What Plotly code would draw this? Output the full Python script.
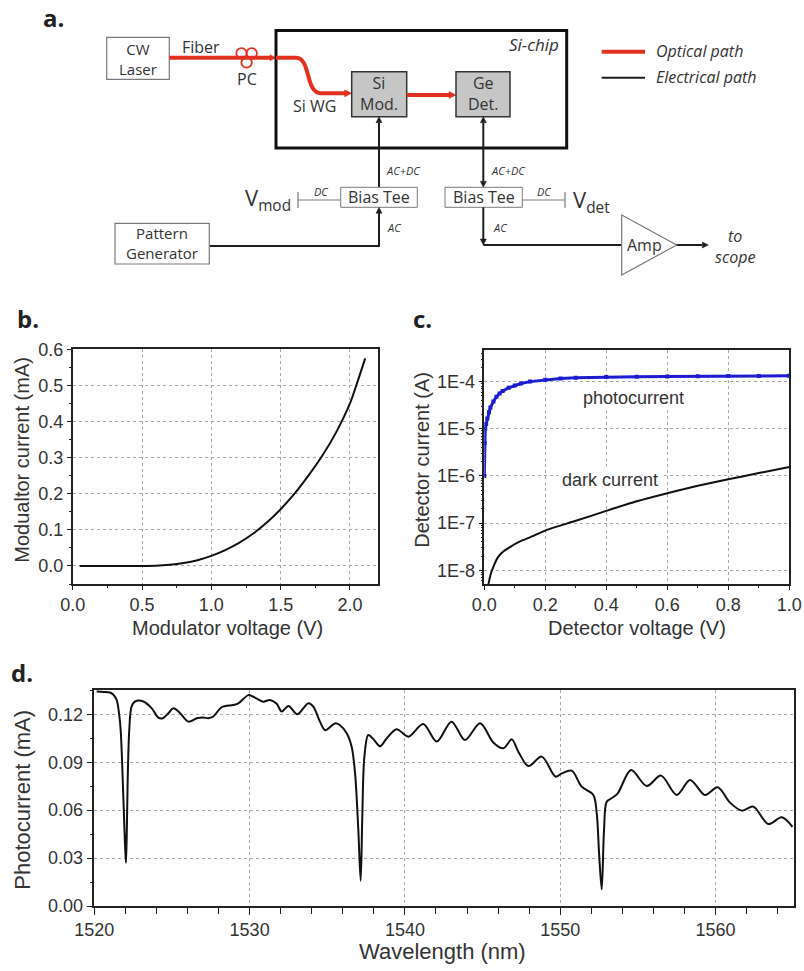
import plotly.graph_objects as go

# ---------------- data ----------------
# panel b: modulator I-V
b_voltage = [0.05, 0.3, 0.6, 0.7, 0.8, 0.9, 1.0, 1.1, 1.2, 1.3, 1.4, 1.5, 1.6, 1.7, 1.8, 1.9, 2.0, 2.05, 2.11]
b_current = [0.0, 0.0, 0.0005, 0.003, 0.008, 0.016, 0.028, 0.044, 0.064, 0.089, 0.12, 0.157, 0.2, 0.25, 0.305, 0.37, 0.45, 0.505, 0.575]

# panel c: detector currents (A)
c_photo_v = [0.0, 0.001, 0.003, 0.006, 0.01, 0.015, 0.02, 0.03, 0.04, 0.05, 0.06, 0.08, 0.1, 0.12, 0.15, 0.2, 0.25, 0.3, 0.4, 0.5, 0.6, 0.7, 0.8, 0.9, 1.0]
c_photo_i = [1.0e-6, 5.0e-6, 1.0e-5, 1.26e-5, 1.66e-5, 2.24e-5, 2.82e-5, 3.8e-5, 4.8e-5, 5.6e-5, 6.3e-5, 7.4e-5, 8.3e-5, 9.1e-5, 1.0e-4, 1.1e-4, 1.17e-4, 1.2e-4, 1.245e-4, 1.26e-4, 1.29e-4, 1.3e-4, 1.32e-4, 1.32e-4, 1.33e-4]
c_dark_v = [0.012, 0.02, 0.03, 0.045, 0.062, 0.08, 0.117, 0.15, 0.205, 0.3, 0.4, 0.5, 0.6, 0.7, 0.8, 0.9, 1.0]
c_dark_i = [4.5e-9, 7.9e-9, 1.2e-8, 1.9e-8, 2.5e-8, 3.0e-8, 4.1e-8, 5.0e-8, 7.2e-8, 1.12e-7, 1.82e-7, 2.9e-7, 4.3e-7, 6.2e-7, 8.5e-7, 1.15e-6, 1.55e-6]

# panel d: photocurrent spectrum
d_wavelength = [1520.15, 1520.6, 1521.0, 1521.2, 1521.44, 1521.6, 1521.7, 1521.87, 1521.97, 1522.04, 1522.1, 1522.15, 1522.25, 1522.4, 1522.62,
                1523.16, 1523.7, 1524.12, 1524.4, 1524.8, 1525.09, 1525.5, 1526.06, 1526.6, 1527.0, 1527.34, 1527.66, 1528.2, 1528.95,
                1529.27, 1529.92, 1530.24, 1530.88, 1531.3, 1531.73, 1532.07, 1532.5, 1533.07, 1533.78, 1534.1, 1534.53, 1534.86,
                1535.5, 1535.8, 1536.25, 1536.57, 1536.79, 1537.0, 1537.15, 1537.26, 1537.39, 1537.64, 1537.92, 1538.4, 1538.83,
                1539.47, 1540.22, 1541.18, 1542.05, 1543.0, 1543.87, 1544.84, 1545.7, 1546.34, 1546.88, 1547.3, 1547.95, 1548.81,
                1549.7, 1550.1, 1550.74, 1551.38, 1552.13, 1552.35, 1552.5, 1552.67, 1552.82, 1552.99, 1553.3, 1553.7, 1554.56,
                1555.57, 1556.49, 1557.5, 1558.36, 1559.32, 1560.14, 1560.93, 1561.69, 1562.43, 1563.4, 1564.26, 1564.95]
d_photocurrent = [0.1342, 0.134, 0.1336, 0.1325, 0.129, 0.12, 0.11, 0.068, 0.04, 0.027, 0.05, 0.079, 0.11, 0.125, 0.128,
                  0.128, 0.1237, 0.1179, 0.1175, 0.121, 0.1237, 0.121, 0.1154, 0.1175, 0.118, 0.1175, 0.1186, 0.1244, 0.1258,
                  0.1268, 0.132, 0.131, 0.1279, 0.129, 0.1268, 0.1217, 0.1252, 0.12, 0.1269, 0.1248, 0.1154, 0.11,
                  0.1143, 0.1133, 0.1081, 0.0997, 0.083, 0.0476, 0.0158, 0.058, 0.0935, 0.107, 0.105, 0.1, 0.105,
                  0.1106, 0.106, 0.1139, 0.1029, 0.1154, 0.1039, 0.1144, 0.1022, 0.0987, 0.1043, 0.0966, 0.0876, 0.0935,
                  0.081, 0.083, 0.0847, 0.0747, 0.0695, 0.058, 0.033, 0.0104, 0.0476, 0.0653, 0.0674, 0.0705, 0.0851,
                  0.0751, 0.0816, 0.0695, 0.0789, 0.0695, 0.0743, 0.0647, 0.0597, 0.0622, 0.0513, 0.0555, 0.0496]

c_tick_vals = [1e-8, 1e-7, 1e-6, 1e-5, 1e-4]
c_tick_text = ["1E-8", "1E-7", "1E-6", "1E-5", "1E-4"]

# ---------------- helpers (pixel -> paper) ----------------
W, H = 804, 971
def X(px): return px / W
def Y(py): return 1 - py / H

shapes = []
annotations = []
DIAG_FONT = "Open Sans, Noto Sans, sans-serif"
CHART_FONT = "Liberation Sans, Arial, sans-serif"
RED = "#e2321f"
BLK = "#1e1e1e"
GRY = "#7a7a7a"

def rect(x0, y0, x1, y1, color, width, fill="rgba(0,0,0,0)"):
    shapes.append(dict(type="rect", xref="paper", yref="paper", x0=X(x0), x1=X(x1), y0=Y(y1), y1=Y(y0),
                       line=dict(color=color, width=width), fillcolor=fill, layer="above"))

def seg(x0, y0, x1, y1, color, width):
    shapes.append(dict(type="line", xref="paper", yref="paper", x0=X(x0), x1=X(x1), y0=Y(y0), y1=Y(y1),
                       line=dict(color=color, width=width), layer="above"))

def path(d_pts, color, width, fill="rgba(0,0,0,0)"):
    shapes.append(dict(type="path", xref="paper", yref="paper", path=d_pts,
                       line=dict(color=color, width=width), fillcolor=fill, layer="above"))

def P(px, py):
    return f"{X(px):.5f},{Y(py):.5f}"

def arrow(tx, ty, direction, color, L=7, Hw=3.5):
    if direction == "right":
        pts = [(tx, ty), (tx - L, ty - Hw), (tx - L, ty + Hw)]
    elif direction == "left":
        pts = [(tx, ty), (tx + L, ty - Hw), (tx + L, ty + Hw)]
    elif direction == "up":
        pts = [(tx, ty), (tx - Hw, ty + L), (tx + Hw, ty + L)]
    else:
        pts = [(tx, ty), (tx - Hw, ty - L), (tx + Hw, ty - L)]
    d = "M " + " L ".join(P(a, b) for a, b in pts) + " Z"
    path(d, color, 0.5, fill=color)

def circle(cx, cy, r, color, width):
    shapes.append(dict(type="circle", xref="paper", yref="paper", x0=X(cx - r), x1=X(cx + r), y0=Y(cy + r), y1=Y(cy - r),
                       line=dict(color=color, width=width), layer="above"))

def text(px, py, s, size=16, family=DIAG_FONT, color="#333", xanchor="center", yanchor="middle", angle=0, bold=False, bg=None):
    if bold:
        s = f"<b>{s}</b>"
    a = dict(xref="paper", yref="paper", x=X(px), y=Y(py), text=s, showarrow=False,
             xanchor=xanchor, yanchor=yanchor, textangle=angle, borderpad=0,
             font=dict(family=family, size=size, color=color))
    if bg:
        a["bgcolor"] = bg
    annotations.append(a)

# ---------------- panel a diagram ----------------
text(53, 18, "a.", size=24, bold=True, color="#222")

# CW laser
rect(106.7, 37.3, 169.3, 79.3, GRY, 1.2, "white")
text(138, 58.5, "CW<br>Laser", size=15)
# fiber
seg(169.3, 57.7, 270, 57.7, RED, 4)
arrow(276, 57.7, "right", RED, L=6, Hw=3)
text(201, 47, "Fiber")
circle(241.5, 53.3, 5.2, RED, 1.8)
circle(251.7, 53.3, 5.2, RED, 1.8)
circle(246.6, 62.5, 5.2, RED, 1.8)
text(246.7, 79, "PC")

# chip
rect(276, 30.5, 566.7, 148, "#111", 3)
text(560, 44, "<i>Si-chip</i>", size=17, xanchor="right")
path("M " + P(276, 57.7) + " L " + P(296, 57.7) + " C " + P(311, 57.7) + " " + P(305, 93.3) + " " + P(321, 93.3)
     + " L " + P(345, 93.3), RED, 4)
arrow(351.7, 93.3, "right", RED)
text(314, 106, "Si WG")
rect(351.7, 71.7, 406.7, 116.7, "#333", 1.5, "#c6c6c6")
text(379.2, 94, "Si<br>Mod.", size=16)
seg(406.7, 95, 449, 95, RED, 4)
arrow(456, 95, "right", RED)
rect(456, 71.7, 510, 116.7, "#333", 1.5, "#c6c6c6")
text(483, 94, "Ge<br>Det.", size=16)

# legend
seg(601.7, 51.7, 645, 51.7, RED, 4)
text(655, 51, "<i>Optical path</i>", size=16, xanchor="left")
seg(601.7, 77.7, 645, 77.7, BLK, 2)
text(655, 77, "<i>Electrical path</i>", size=16, xanchor="left")

# modulator electrical chain
seg(379, 187.3, 379, 123, BLK, 2)
arrow(379, 116.7, "up", BLK, L=6, Hw=3)
text(403, 170, "<i>AC+DC</i>", size=11)
rect(340.7, 187.3, 417.3, 207.3, GRY, 1, "white")
text(379, 197, "Bias Tee", size=16)
seg(298, 200, 340.7, 200, GRY, 1)
seg(298, 192, 298, 208, GRY, 1.2)
text(321, 192, "<i>DC</i>", size=11)
text(292, 199, "V<sub>mod</sub>", size=22, xanchor="right")
seg(379, 246, 379, 213, BLK, 2)
arrow(379, 207.3, "up", BLK, L=6, Hw=3)
seg(209.3, 246, 380, 246, BLK, 2)
text(394, 228, "<i>AC</i>", size=11)
rect(115, 223.3, 209.3, 264, GRY, 1.2, "white")
text(162, 243.5, "Pattern<br>Generator", size=15)

# detector electrical chain
seg(483.3, 123, 483.3, 181, BLK, 2)
arrow(483.3, 116.7, "up", BLK, L=6, Hw=3)
arrow(483.3, 187.3, "down", BLK, L=6, Hw=3)
text(508, 170, "<i>AC+DC</i>", size=11)
rect(445, 187.3, 522.3, 207.3, GRY, 1, "white")
text(483.7, 197, "Bias Tee", size=16)
seg(522.3, 200, 565, 200, GRY, 1)
seg(565, 192, 565, 208, GRY, 1.2)
text(543.5, 192, "<i>DC</i>", size=11)
text(572, 201, "V<sub>det</sub>", size=22, xanchor="left")
seg(483.3, 207.3, 483.3, 239, BLK, 2)
arrow(483.3, 245, "down", BLK, L=6, Hw=3)
seg(483.3, 245, 621.7, 245, BLK, 2)
text(500, 228, "<i>AC</i>", size=11)
path("M " + P(621.7, 215) + " L " + P(676.7, 245) + " L " + P(621.7, 275) + " Z", GRY, 1.2, fill="white")
text(644, 245, "Amp", size=16)
seg(676.7, 245, 702, 245, BLK, 2)
arrow(708.3, 245, "right", BLK, L=6, Hw=3)
text(735, 246, "<i>to<br>scope</i>", size=16)

# ---------------- panel labels & axis titles ----------------
text(28, 318, "b.", size=24, bold=True, color="#222")
text(422, 318, "c.", size=24, bold=True, color="#222")
text(22, 672, "d.", size=24, bold=True, color="#222")

text(21.7, 460, "Modualtor current (mA)", size=20, family=CHART_FONT, angle=-90)
text(227, 628, "Modulator voltage (V)", size=20, family=CHART_FONT)
text(421.7, 460, "Detector current (A)", size=20, family=CHART_FONT, angle=-90)
text(637, 628, "Detector voltage (V)", size=20, family=CHART_FONT)
text(21.7, 800, "Photocurrent (mA)", size=22, family=CHART_FONT, angle=-90)
text(442, 951, "Wavelength (nm)", size=22, family=CHART_FONT)

# curve labels in panel c (data coordinates)
annotations.append(dict(xref="x2", yref="y2", x=0.489, y=-4.35, text="photocurrent", showarrow=False,
                        font=dict(family=CHART_FONT, size=18, color="#333"), bgcolor="white"))
annotations.append(dict(xref="x2", yref="y2", x=0.412, y=-6.08, text="dark current", showarrow=False,
                        font=dict(family=CHART_FONT, size=18, color="#333"), bgcolor="white", borderpad=3))

# ---------------- traces ----------------
fig = go.Figure()
fig.add_trace(go.Scatter(x=b_voltage, y=b_current, mode="lines", xaxis="x", yaxis="y",
                         line=dict(color="#111", width=2, shape="spline", smoothing=0.8), showlegend=False))
fig.add_trace(go.Scatter(x=c_dark_v, y=c_dark_i, mode="lines", xaxis="x2", yaxis="y2",
                         line=dict(color="#111", width=2, shape="spline", smoothing=0.6), showlegend=False))
fig.add_trace(go.Scatter(x=c_photo_v, y=c_photo_i, mode="lines+markers", xaxis="x2", yaxis="y2",
                         line=dict(color="#1c1cd2", width=3), marker=dict(symbol="square", size=4, color="#1c1cd2"),
                         showlegend=False))
fig.add_trace(go.Scatter(x=d_wavelength, y=d_photocurrent, mode="lines", xaxis="x3", yaxis="y3",
                         line=dict(color="#111", width=2, shape="spline", smoothing=0.9), showlegend=False))

def axis(**kw):
    base = dict(showline=True, linecolor="#222", linewidth=1.5, mirror=True, ticks="outside", ticklen=4,
                tickcolor="#222", tickwidth=1.2, showgrid=True, gridcolor="#a8a8a8", griddash="dot", gridwidth=1,
                zeroline=False, automargin=False, fixedrange=True,
                tickfont=dict(family=CHART_FONT, size=18, color="#333"))
    base.update(kw)
    return base

minor_log = [m * 10.0 ** e for e in range(-9, -3) for m in range(2, 10)]

fig.update_layout(
    width=W, height=H, margin=dict(l=0, r=0, t=0, b=0),
    paper_bgcolor="white", plot_bgcolor="white", showlegend=False,
    xaxis=axis(domain=[X(72.7), X(377.7)], range=[0, 2.2], dtick=0.5, tick0=0, tickformat=".1f", anchor="y",
               minor=dict(dtick=0.25, ticks="outside", ticklen=2, tickcolor="#222")),
    yaxis=axis(domain=[Y(584), Y(349.3)], range=[-0.05, 0.6], dtick=0.1, tick0=0, tickformat=".1f", anchor="x",
               minor=dict(dtick=0.05, ticks="outside", ticklen=2, tickcolor="#222")),
    xaxis2=axis(domain=[X(484.3), X(789.3)], range=[0, 1], dtick=0.2, tick0=0, tickformat=".1f", anchor="y2",
                minor=dict(dtick=0.1, ticks="outside", ticklen=2, tickcolor="#222")),
    yaxis2=axis(domain=[Y(584), Y(350)], type="log", range=[-8.29, -3.33], tickvals=c_tick_vals, ticktext=c_tick_text,
                anchor="x2", minor=dict(tickvals=minor_log, ticks="outside", ticklen=2, tickcolor="#222")),
    xaxis3=axis(domain=[X(94.3), X(794.3)], range=[1520, 1565.07], dtick=10, tick0=1520, ticklen=7, anchor="y3",
                minor=dict(dtick=2, ticks="outside", ticklen=6, tickcolor="#222")),
    yaxis3=axis(domain=[Y(906), Y(690)], range=[0, 0.1352], dtick=0.03, tick0=0, tickformat=".2f", anchor="x3",
                ticklen=6, minor=dict(dtick=0.015, ticks="outside", ticklen=3, tickcolor="#222")),
    shapes=shapes, annotations=annotations,
)

fig.write_html("out.html", config={"displayModeBar": False})
with open("out.html", "r", encoding="utf-8") as f:
    html = f.read()
html = html.replace("<body>", '<body style="margin:0;overflow:hidden">', 1)
with open("out.html", "w", encoding="utf-8") as f:
    f.write(html)
